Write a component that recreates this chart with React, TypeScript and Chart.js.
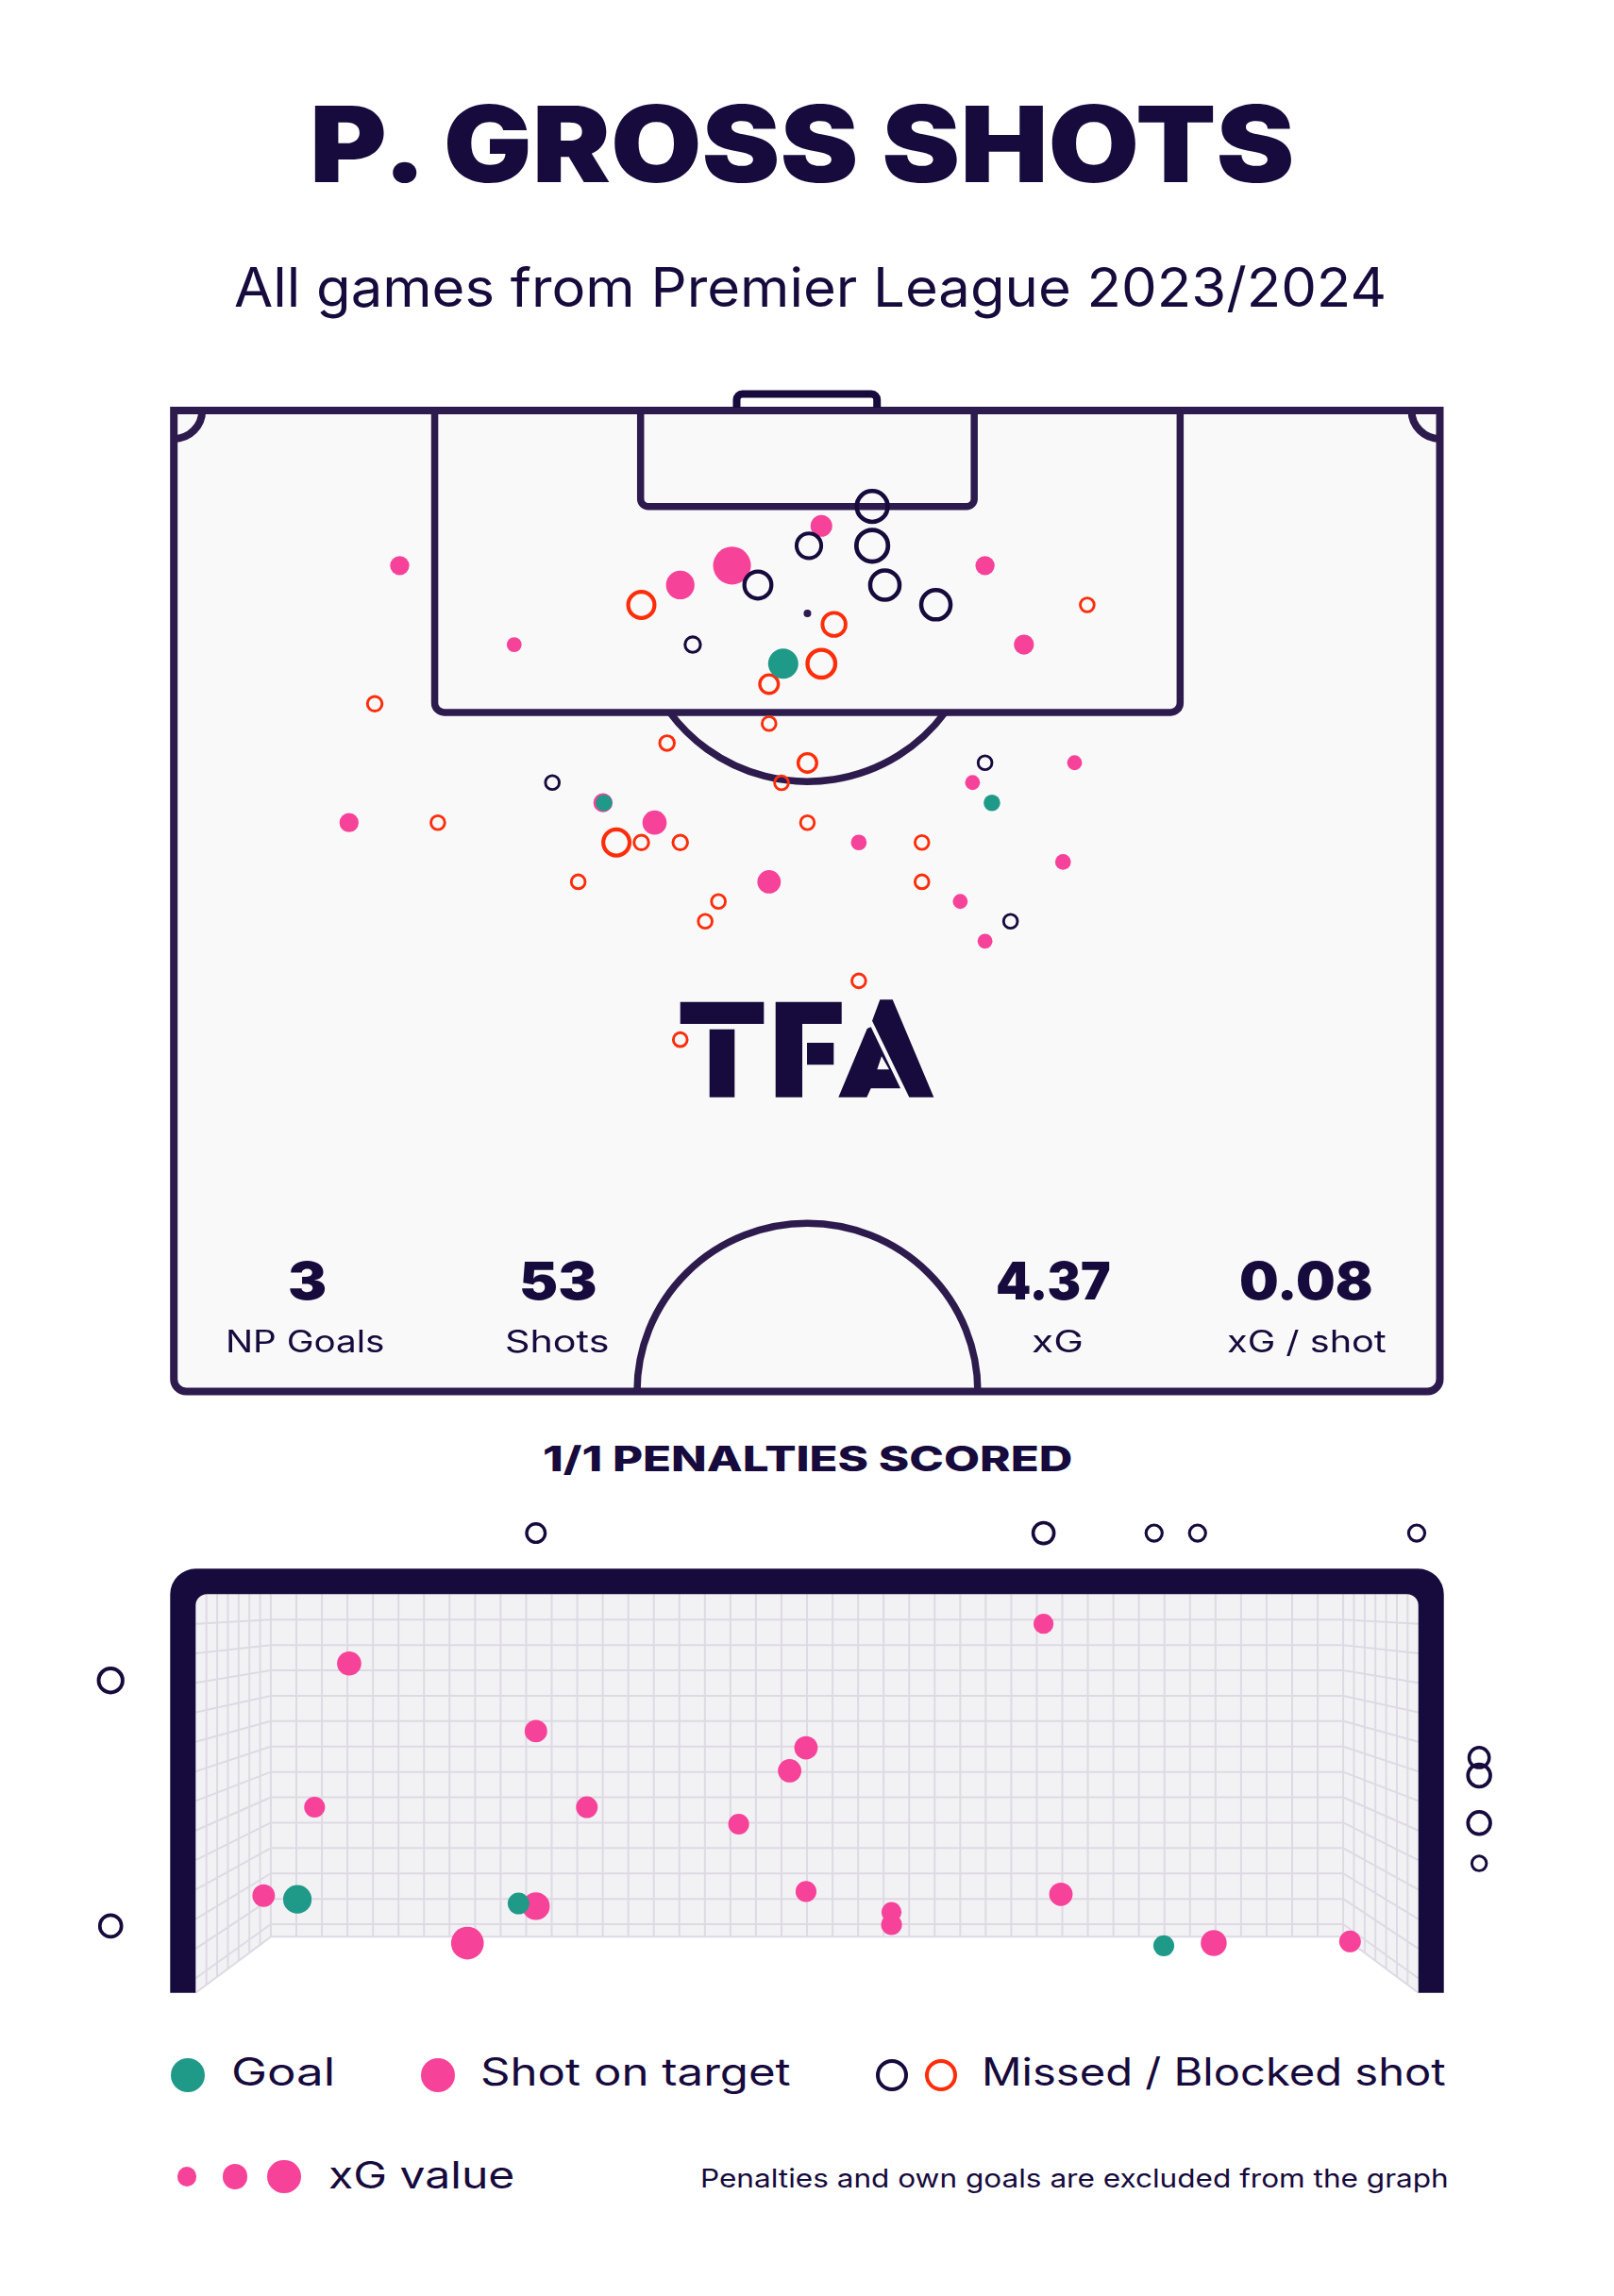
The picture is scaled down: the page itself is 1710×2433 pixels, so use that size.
import React, { useEffect, useLayoutEffect, useRef } from 'react';
import { Chart, registerables } from 'chart.js';
Chart.register(...registerables);

const NAVY = '#170a3c';
const LINE = '#2d1b4e';
const PINK = '#f7429a';
const TEAL = '#1f9a89';
const RED = '#ff2d0a';

// ---------- DATA ----------
// Pitch shots: [metres from left touchline, metres from goal line, xG]
const pitchGoals = [[32.73, 13.78, 0.2], [23.1, 21.35, 0.04], [43.94, 21.35, 0.04]];
const pitchOnTarget = [
  [34.78, 6.28, 0.1], [29.98, 8.44, 0.29], [27.2, 9.5, 0.18], [12.13, 8.44, 0.07],
  [43.57, 8.44, 0.07], [18.28, 12.74, 0.02], [45.66, 12.74, 0.08], [48.38, 19.17, 0.02],
  [42.9, 20.25, 0.02], [9.41, 22.43, 0.07], [25.82, 22.43, 0.13], [36.79, 23.51, 0.03],
  [47.76, 24.57, 0.03], [31.97, 25.65, 0.12], [42.24, 26.72, 0.02], [43.57, 28.88, 0.02],
  [23.05, 21.35, 0.07],
];
const pitchMissed = [
  [37.51, 5.22, 0.26], [34.11, 7.36, 0.18], [37.51, 7.36, 0.27], [31.37, 9.5, 0.21],
  [38.19, 9.5, 0.24], [40.93, 10.57, 0.24], [27.87, 12.74, 0.06], [20.33, 20.25, 0.04],
  [43.57, 19.17, 0.04], [44.94, 27.8, 0.04],
];
const pitchBlocked = [
  [25.11, 10.58, 0.2], [35.46, 11.64, 0.16], [34.78, 13.78, 0.22], [31.97, 14.89, 0.1],
  [49.06, 10.58, 0.04], [10.79, 15.96, 0.05], [31.97, 17.04, 0.04], [26.49, 18.1, 0.05],
  [34.03, 19.18, 0.1], [32.64, 20.26, 0.04], [14.18, 22.43, 0.04], [34.03, 22.43, 0.04],
  [23.77, 23.51, 0.2], [25.11, 23.51, 0.05], [27.2, 23.51, 0.05], [40.18, 23.51, 0.04],
  [21.72, 25.65, 0.04], [40.18, 25.65, 0.04], [29.25, 26.72, 0.04], [28.54, 27.8, 0.04],
  [36.79, 31.04, 0.04], [27.2, 34.24, 0.04],
];

// Goal-mouth view: [metres from left post, metres above ground, xG]
const frameGoals = [[0.609, 0.572, 0.18], [1.933, 0.547, 0.1], [5.796, 0.288, 0.09]];
const frameOnTarget = [
  [5.076, 2.259, 0.08], [0.919, 2.016, 0.13], [2.037, 1.602, 0.11], [3.654, 1.5, 0.12],
  [3.556, 1.359, 0.12], [0.712, 1.136, 0.09], [2.342, 1.136, 0.1], [3.251, 1.032, 0.09],
  [0.407, 0.595, 0.11], [3.654, 0.62, 0.09], [5.18, 0.603, 0.12], [2.037, 0.53, 0.17],
  [4.166, 0.494, 0.08], [4.166, 0.417, 0.09], [1.627, 0.304, 0.23], [6.095, 0.304, 0.15],
  [6.911, 0.314, 0.1],
];
const frameMissed = [
  [2.037, 2.814, 0.1], [5.076, 2.814, 0.13], [5.738, 2.814, 0.07], [5.998, 2.814, 0.07],
  [7.31, 2.814, 0.07], [-0.509, 1.912, 0.17], [-0.509, 0.409, 0.14], [7.684, 1.44, 0.12],
  [7.684, 1.33, 0.15], [7.684, 1.039, 0.15], [7.684, 0.792, 0.05],
];

const statValues = ['3', '53', '4.37', '0.08'];
const statLabels = ['NP Goals', 'Shots', 'xG', 'xG / shot'];

// ---------- GEOMETRY (style / layout) ----------
const PITCH_W = 68;
const HALF_LEN = 53.39;
const CX = 34.03;
const PEN_HALF = 20.02, PEN_DEPTH = 16.43;
const SIX_HALF = 8.96, SIX_DEPTH = 5.22;
const SPOT = 11.04, ARC_R = 9.15;
const GOAL_CX = 34.0, GOAL_HALF = 3.77;
const GOAL_W = 7.32, GOAL_H = 2.44, NET_INSET = 0.45, NET_FLOOR = 0.343;

const rad = (xg: number) => 7 + 45 * xg;
const ringW = (r: number) => 1.3 + 0.18 * r;

function filledSet(pts: number[][], color: string, order: number) {
  const r = pts.map((p) => rad(p[2]));
  return {
    data: pts.map((p) => ({ x: p[0], y: p[1] })),
    pointRadius: r, pointHoverRadius: r,
    pointBackgroundColor: color, pointBorderColor: color, pointBorderWidth: 0,
    showLine: false, order,
  };
}
function ringSet(pts: number[][], color: string, order: number) {
  const r = pts.map((p) => rad(p[2]));
  const bw = r.map(ringW);
  const pr = r.map((v, i) => v - bw[i] / 2);
  return {
    data: pts.map((p) => ({ x: p[0], y: p[1] })),
    pointRadius: pr, pointHoverRadius: pr,
    pointBackgroundColor: 'rgba(0,0,0,0)', pointBorderColor: color, pointBorderWidth: bw,
    showLine: false, order,
  };
}

const pitchPlugin = {
  id: 'pitchLines',
  beforeDatasetsDraw(chart: any) {
    const { ctx, scales } = chart;
    const X = (v: number) => scales.x.getPixelForValue(v);
    const Y = (v: number) => scales.y.getPixelForValue(v);
    const L = X(0), R = X(PITCH_W), T = Y(0), B = Y(HALF_LEN);
    ctx.save();
    ctx.fillStyle = '#f9f9f9';
    ctx.beginPath();
    ctx.roundRect(L, T, R - L, B - T, [0, 0, 13, 13]);
    ctx.fill();
    ctx.strokeStyle = LINE;
    ctx.lineWidth = 8;
    ctx.stroke();
    ctx.lineWidth = 7.5;
    ctx.beginPath();
    ctx.roundRect(X(CX - SIX_HALF), T, X(CX + SIX_HALF) - X(CX - SIX_HALF), Y(SIX_DEPTH) - T, [0, 0, 8, 8]);
    ctx.stroke();
    ctx.beginPath();
    ctx.roundRect(X(CX - PEN_HALF), T, X(CX + PEN_HALF) - X(CX - PEN_HALF), Y(PEN_DEPTH) - T, [0, 0, 10, 10]);
    ctx.stroke();
    const rx = X(CX + ARC_R) - X(CX), ry = Y(SPOT + ARC_R) - Y(SPOT);
    const a0 = Math.asin((PEN_DEPTH - SPOT) / ARC_R);
    ctx.beginPath();
    ctx.ellipse(X(CX), Y(SPOT), rx, ry, 0, a0, Math.PI - a0);
    ctx.stroke();
    ctx.beginPath();
    ctx.ellipse(X(CX), B, rx, ry, 0, Math.PI, 2 * Math.PI);
    ctx.stroke();
    const cr = X(1.52) - X(0);
    ctx.lineWidth = 8;
    ctx.beginPath(); ctx.arc(L, T, cr, 0, Math.PI / 2); ctx.stroke();
    ctx.beginPath(); ctx.arc(R, T, cr, Math.PI / 2, Math.PI); ctx.stroke();
    ctx.fillStyle = LINE;
    ctx.beginPath(); ctx.arc(X(CX), Y(SPOT), 4, 0, Math.PI * 2); ctx.fill();
    ctx.strokeStyle = NAVY;
    ctx.lineWidth = 8;
    ctx.lineJoin = 'round';
    const gL = X(GOAL_CX - GOAL_HALF), gR = X(GOAL_CX + GOAL_HALF), gT = Y(-0.9);
    ctx.beginPath();
    ctx.moveTo(gL, T - 3);
    ctx.lineTo(gL, gT + 6);
    ctx.arcTo(gL, gT, gL + 6, gT, 6);
    ctx.lineTo(gR - 6, gT);
    ctx.arcTo(gR, gT, gR, gT + 6, 6);
    ctx.lineTo(gR, T - 3);
    ctx.stroke();
    const ax = X(27.2), ay = Y(32.19);
    const poly = (pts: number[][]) => {
      ctx.moveTo(ax + pts[0][0], ay + pts[0][1]);
      for (let i = 1; i < pts.length; i++) ctx.lineTo(ax + pts[i][0], ay + pts[i][1]);
      ctx.closePath();
    };
    ctx.fillStyle = NAVY;
    ctx.beginPath();
    poly([[0, 0], [88.6, 0], [88.6, 23.3], [0, 23.3]]);
    poly([[31, 29], [57.6, 29], [57.6, 101], [31, 101]]);
    poly([[101, 0], [171, 0], [171, 23.3], [129.3, 23.3], [129.3, 101], [101, 101]]);
    poly([[134.3, 43.3], [162.6, 43.3], [162.6, 66.6], [134.3, 66.6]]);
    poly([[211.6, -2.4], [225, -2.4], [268.6, 101], [242.6, 101], [203.3, 20]]);
    ctx.fill();
    ctx.beginPath();
    poly([[198, 28.3], [202, 26.6], [233.3, 91.6], [202, 91.6], [197.6, 101], [167.6, 101]]);
    poly([[213.3, 57.6], [208.6, 71.6], [221.3, 71.6]]);
    ctx.fill('evenodd');
    ctx.restore();
  },
};

const goalPlugin = {
  id: 'goalFrame',
  beforeDatasetsDraw(chart: any) {
    const { ctx, scales } = chart;
    const X = (v: number) => scales.x.getPixelForValue(v);
    const Y = (v: number) => scales.y.getPixelForValue(v);
    const fL = X(0), fR = X(GOAL_W), top = Y(GOAL_H), fB = Y(0);
    const bL = X(NET_INSET), bR = X(GOAL_W - NET_INSET), bB = Y(NET_FLOOR);
    ctx.save();
    ctx.fillStyle = '#f2f2f5';
    ctx.beginPath();
    ctx.moveTo(fL, top); ctx.lineTo(fR, top); ctx.lineTo(fR, fB); ctx.lineTo(bR, bB);
    ctx.lineTo(bL, bB); ctx.lineTo(fL, fB); ctx.closePath();
    ctx.fill();
    ctx.strokeStyle = '#dddae3';
    ctx.lineWidth = 2;
    const cols = 42, dx = (bR - bL) / cols, cell = 26.9;
    const rows = Math.floor((bB - top) / cell);
    ctx.beginPath();
    for (let i = 0; i <= cols; i++) { const px = bL + i * dx; ctx.moveTo(px, top); ctx.lineTo(px, bB); }
    for (let j = 1; j <= rows; j++) { const py = top + j * cell; ctx.moveTo(bL, py); ctx.lineTo(bR, py); }
    ctx.moveTo(bL, bB); ctx.lineTo(bR, bB);
    const ratio = (fB - top) / (bB - top);
    for (const [f, b] of [[fL, bL], [fR, bR]]) {
      for (let i = 1; i <= 7; i++) {
        const px = f + (b - f) * i / 7, yb = fB + (bB - fB) * i / 7;
        ctx.moveTo(px, top); ctx.lineTo(px, yb);
      }
      for (let j = 1; j <= rows; j++) {
        const yb = top + j * cell, yf = top + (yb - top) * ratio;
        ctx.moveTo(b, yb); ctx.lineTo(f, yf);
      }
      ctx.moveTo(b, bB); ctx.lineTo(f, fB);
    }
    ctx.stroke();
    const t = 27, ro = 27, ri = 12;
    const oL = fL - t, oR = fR + t, oT = top - t;
    ctx.fillStyle = NAVY;
    ctx.beginPath();
    ctx.moveTo(oL, fB);
    ctx.lineTo(oL, oT + ro);
    ctx.arcTo(oL, oT, oL + ro, oT, ro);
    ctx.lineTo(oR - ro, oT);
    ctx.arcTo(oR, oT, oR, oT + ro, ro);
    ctx.lineTo(oR, fB);
    ctx.lineTo(fR, fB);
    ctx.lineTo(fR, top + ri);
    ctx.arcTo(fR, top, fR - ri, top, ri);
    ctx.lineTo(fL + ri, top);
    ctx.arcTo(fL, top, fL, top + ri, ri);
    ctx.lineTo(fL, fB);
    ctx.closePath();
    ctx.fill();
    ctx.restore();
  },
};

let measureCanvas: HTMLCanvasElement | null = null;

function FitText(props: any) {
  const { text, left, width, baseline, size, weight, family = 'Inter', color = NAVY } = props;
  const boxRef = useRef<HTMLDivElement>(null);
  const spanRef = useRef<HTMLSpanElement>(null);
  useLayoutEffect(() => {
    let alive = true;
    const font = `${weight} ${size}px ${family}`;
    const fit = () => {
      if (!alive) return;
      const box = boxRef.current, span = spanRef.current;
      if (!box || !span) return;
      if (!measureCanvas) measureCanvas = document.createElement('canvas');
      const c = measureCanvas.getContext('2d');
      if (!c) return;
      c.font = font;
      const m = c.measureText(text);
      const inkW = m.actualBoundingBoxLeft + m.actualBoundingBoxRight;
      if (!(inkW > 0)) return;
      const s = width / inkW;
      span.style.transform = `scaleX(${s})`;
      box.style.left = `${left + m.actualBoundingBoxLeft * s}px`;
      const fa = (m as any).fontBoundingBoxAscent, fd = (m as any).fontBoundingBoxDescent;
      if (fa && fd) box.style.top = `${baseline - ((size - (fa + fd)) / 2 + fa)}px`;
    };
    fit();
    if ((document as any).fonts) {
      (document as any).fonts.load(font).then(fit).catch(() => {});
      (document as any).fonts.ready.then(fit);
    }
    const t1 = setTimeout(fit, 150);
    const t2 = setTimeout(fit, 600);
    return () => { alive = false; clearTimeout(t1); clearTimeout(t2); };
  }, [text, left, width, baseline, size, weight, family]);
  return (
    <div ref={boxRef} style={{ position: 'absolute', left, top: baseline - 0.8637 * size, fontFamily: family, fontSize: size, fontWeight: weight, lineHeight: `${size}px`, color, whiteSpace: 'nowrap' }}>
      <span ref={spanRef} style={{ display: 'inline-block', transformOrigin: '0 0' }}>{text}</span>
    </div>
  );
}

function Dot({ cx, cy, r, fill, ring, bw }: any) {
  return (
    <div style={{
      position: 'absolute', left: cx - r, top: cy - r, width: 2 * r, height: 2 * r, borderRadius: '50%',
      boxSizing: 'border-box', background: fill || 'transparent', border: ring ? `${bw}px solid ${ring}` : 'none',
    }} />
  );
}

const statCenters = [325.8, 591, 1116, 1384];
const statValueWidths = [37, 78.3, 119, 139];
const labelCenters = [324, 590, 1120, 1385];
const labelWidths = [165, 108, 51, 167];

export default function App() {
  const pitchRef = useRef<HTMLCanvasElement>(null);
  const goalRef = useRef<HTMLCanvasElement>(null);

  useEffect(() => {
    document.body.style.margin = '0';
    const common = {
      animation: false as const, responsive: false, devicePixelRatio: 1, events: [] as any[],
      layout: { padding: 0, autoPadding: false },
      plugins: { legend: { display: false }, tooltip: { enabled: false }, title: { display: false } },
    };
    const pxPerMx = 19.725, pxPerMy = 19.47;
    const pitchXmin = -184.2 / pxPerMx, pitchYmin = -35 / pxPerMy;
    const c1 = new Chart(pitchRef.current!, {
      type: 'scatter',
      data: {
        datasets: [
          filledSet(pitchGoals, TEAL, 0),
          ringSet(pitchMissed, NAVY, 1),
          ringSet(pitchBlocked, RED, 2),
          filledSet(pitchOnTarget, PINK, 3),
        ] as any,
      },
      options: {
        ...common,
        scales: {
          x: { type: 'linear', display: false, min: pitchXmin, max: pitchXmin + 1710 / pxPerMx },
          y: { type: 'linear', display: false, reverse: true, min: pitchYmin, max: pitchYmin + 1100 / pxPerMy },
        },
      } as any,
      plugins: [pitchPlugin],
    });
    const gx = 176.97, gy = 173.1;
    const goalXmin = -207.3 / gx, goalYmax = 531.7 / gy;
    const c2 = new Chart(goalRef.current!, {
      type: 'scatter',
      data: {
        datasets: [
          filledSet(frameGoals, TEAL, 0),
          ringSet(frameMissed, NAVY, 1),
          filledSet(frameOnTarget, PINK, 2),
        ] as any,
      },
      options: {
        ...common,
        scales: {
          x: { type: 'linear', display: false, min: goalXmin, max: goalXmin + 1710 / gx },
          y: { type: 'linear', display: false, min: goalYmax - 560 / gy, max: goalYmax },
        },
      } as any,
      plugins: [goalPlugin],
    });
    return () => { c1.destroy(); c2.destroy(); };
  }, []);

  return (
    <div style={{ position: 'absolute', left: 0, top: 0, width: 1710, height: 2433, background: '#ffffff', overflow: 'hidden' }}>
      <canvas ref={pitchRef} width={1710} height={1100} style={{ position: 'absolute', left: 0, top: 400, width: 1710, height: 1100 }} />
      <canvas ref={goalRef} width={1710} height={560} style={{ position: 'absolute', left: 0, top: 1580, width: 1710, height: 560 }} />

      <FitText text="P. GROSS SHOTS" left={334} width={1042} baseline={193} size={112} weight={900} />
      <FitText text="All games from Premier League 2023/2024" left={249} width={1217} baseline={324.5} size={57} weight={400} />

      {statValues.map((v, i) => (
        <FitText key={'v' + i} text={v} left={statCenters[i] - statValueWidths[i] / 2} width={statValueWidths[i]} baseline={1377} size={55} weight={900} />
      ))}
      {statLabels.map((v, i) => (
        <FitText key={'l' + i} text={v} left={labelCenters[i] - labelWidths[i] / 2} width={labelWidths[i]} baseline={1433.3} size={32} weight={400} />
      ))}

      <FitText text="1/1 PENALTIES SCORED" left={576} width={558} baseline={1559.6} size={36.6} weight={800} />

      <Dot cx={199} cy={2198.7} r={18} fill={TEAL} />
      <FitText text="Goal" left={248} width={104} baseline={2211} size={40.3} weight={400} />
      <Dot cx={464} cy={2198.7} r={18} fill={PINK} />
      <FitText text="Shot on target" left={511} width={326} baseline={2211} size={40.3} weight={400} />
      <Dot cx={945} cy={2198.7} r={17} ring={NAVY} bw={4.5} />
      <Dot cx={997} cy={2198.7} r={17} ring={RED} bw={4.5} />
      <FitText text="Missed / Blocked shot" left={1044} width={488} baseline={2211} size={40.3} weight={400} />

      <Dot cx={198} cy={2306.7} r={10.3} fill={PINK} />
      <Dot cx={249} cy={2306.7} r={13.3} fill={PINK} />
      <Dot cx={301} cy={2306.7} r={17.7} fill={PINK} />
      <FitText text="xG value" left={349} width={194} baseline={2319} size={39} weight={400} />
      <FitText text="Penalties and own goals are excluded from the graph" left={744} width={789} baseline={2318.3} size={27.5} weight={400} />
    </div>
  );
}
